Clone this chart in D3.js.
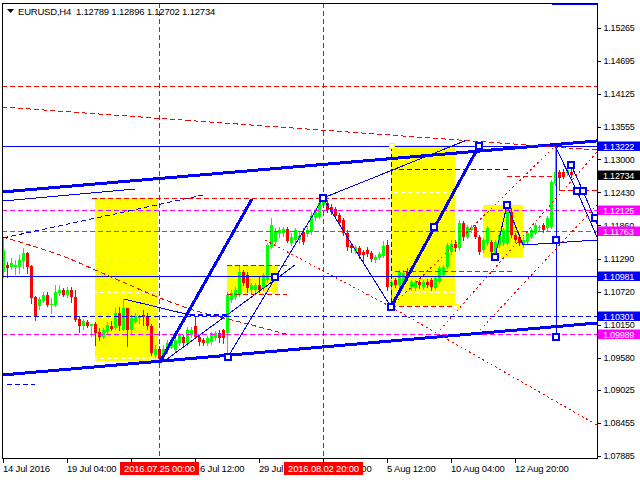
<!DOCTYPE html>
<html><head><meta charset="utf-8">
<script src="https://cdn.jsdelivr.net/npm/d3@7/dist/d3.min.js"></script>
<style>
body{margin:0;background:#fff}
svg{display:block}
text{font-family:"Liberation Sans",Arial,sans-serif;font-size:9.5px;letter-spacing:-0.2px;white-space:pre}
</style>
</head><body>
<svg id="c" width="640" height="480"></svg>
<script>
// ---------- DATA ----------
const symbolTitle = "EURUSD,H4  1.12789 1.12896 1.12702 1.12734";
const firstBar = -39; // bar index 0 = 2016.07.25 00:00 (H4)
const opens = [
1.11057,1.11178,1.11143,1.11143,1.11143,1.11247,1.11385,1.11161,1.10626,1.10471,
1.10557,1.10660,1.10488,1.10488,1.10696,1.10746,1.10660,1.10746,1.10626,1.10247,
1.10126,1.10195,1.10126,1.10161,1.10023,1.09937,1.10023,1.10126,1.10092,1.10350,
1.10056,1.10437,1.10056,1.10195,1.10264,1.10315,1.10281,1.10126,1.09625,
1.09729,1.09592,1.09711,1.09764,1.09711,1.09834,1.09937,1.09834,1.09970,1.10126,
1.09937,1.09884,1.09834,1.09851,1.09920,1.10006,1.10056,1.10006,1.10574,1.10626,
1.10660,1.11057,1.11005,1.10746,1.10746,1.10833,1.10782,1.10919,1.11488,1.11575,
1.11730,1.11730,1.11799,1.11558,1.11609,1.11609,1.11747,1.11713,1.11747,1.11989,
1.12006,1.12213,1.12248,1.12179,1.12144,1.12041,1.11954,1.11730,1.11523,1.11419,
1.11471,1.11402,1.11437,1.11385,1.11264,1.11299,1.11333,1.11523,1.10816,1.10919,
1.10833,1.10833,1.11057,1.10799,1.10782,1.10885,1.10799,1.10885,1.10919,1.10782,
1.10885,1.11005,1.11143,1.11402,1.11540,1.11471,1.11903,1.11661,1.11782,1.11834,
1.11661,1.11437,1.11558,1.11575,1.11385,1.11523,1.11558,1.11558,1.12092,1.11695,
1.11661,1.11523,1.11575,1.11661,1.11730,1.11816,1.11868,1.11816,1.11834,1.12592,
1.12782,1.12782,1.12765,1.12789];
const highs = [
1.11643,1.11229,1.11299,1.11264,1.11350,1.11471,1.11402,1.11178,1.10643,1.10626,
1.10713,1.10713,1.10609,1.10833,1.10833,1.10782,1.10799,1.10799,1.10746,1.10298,
1.10247,1.10229,1.10161,1.10195,1.10092,1.10092,1.10195,1.10212,1.10437,1.10454,
1.10592,1.10437,1.10315,1.10350,1.10315,1.10401,1.10350,1.10161,1.09797,
1.09781,1.09797,1.09884,1.09937,1.09937,1.10006,1.09970,1.10109,1.10109,1.10281,
1.09970,1.09920,1.09954,1.10023,1.10040,1.10056,1.10075,1.10713,1.10746,1.10799,
1.11178,1.11091,1.11057,1.10868,1.10868,1.10971,1.11040,1.11558,1.11989,1.11816,
1.11834,1.11834,1.11834,1.11730,1.11816,1.11747,1.11816,1.11851,1.12092,1.12144,
1.12299,1.12368,1.12299,1.12230,1.12179,1.12075,1.11989,1.11782,1.11558,1.11523,
1.11506,1.11437,1.11488,1.11419,1.11350,1.11402,1.11592,1.11609,1.10919,1.10954,
1.11091,1.11091,1.11126,1.10919,1.10919,1.10919,1.10919,1.10937,1.10954,1.10988,
1.11161,1.11178,1.11558,1.11609,1.11609,1.11954,1.11937,1.11868,1.11868,1.11868,
1.11695,1.11643,1.11851,1.11609,1.11609,1.11730,1.11816,1.12213,1.12161,1.11730,
1.11713,1.11661,1.11765,1.11816,1.11903,1.11868,1.11903,1.12023,1.12644,1.13222,
1.12817,1.12834,1.12851,1.12896];
const lows = [
1.10971,1.10971,1.11109,1.11023,1.11040,1.11126,1.11040,1.10523,1.10229,1.10420,
1.10540,1.10471,1.10350,1.10471,1.10660,1.10643,1.10626,1.10540,1.10212,1.10023,
1.10075,1.10109,1.09954,1.09797,1.09884,1.09920,1.10006,1.10056,1.10075,1.10056,
1.10056,1.09781,1.10006,1.10178,1.10178,1.10142,1.10075,1.09625,1.09592,
1.09505,1.09540,1.09661,1.09747,1.09678,1.09797,1.09797,1.09797,1.09937,1.09920,
1.09797,1.09797,1.09797,1.09816,1.09884,1.09851,1.09834,1.09592,1.10540,1.10592,
1.10643,1.10833,1.10713,1.10696,1.10713,1.10713,1.10746,1.10885,1.11471,1.11558,
1.11661,1.11678,1.11575,1.11523,1.11558,1.11558,1.11540,1.11678,1.11713,1.11954,
1.11989,1.12179,1.12092,1.12058,1.11989,1.11868,1.11695,1.11437,1.11402,1.11385,
1.11299,1.11212,1.11333,1.11247,1.11229,1.11281,1.11316,1.10746,1.10454,1.10799,
1.10799,1.10799,1.10919,1.10746,1.10746,1.10782,1.10765,1.10799,1.10746,1.10765,
1.10868,1.10988,1.11126,1.11368,1.11419,1.11437,1.11609,1.11643,1.11747,1.11643,
1.11368,1.11402,1.11523,1.11316,1.11333,1.11488,1.11523,1.11540,1.11661,1.11575,
1.11523,1.11488,1.11558,1.11643,1.11713,1.11782,1.11747,1.11782,1.11816,1.12558,
1.12472,1.12679,1.12730,1.12702];
const closes = [
1.11437,1.11126,1.11212,1.11178,1.11264,1.11385,1.11143,1.10609,1.10298,1.10592,
1.10660,1.10488,1.10506,1.10713,1.10746,1.10660,1.10746,1.10626,1.10229,1.10126,
1.10212,1.10126,1.10161,1.10006,1.09937,1.10056,1.10142,1.10075,1.10350,1.10126,
1.10437,1.10056,1.10264,1.10298,1.10298,1.10281,1.10126,1.09661,1.09729,
1.09557,1.09729,1.09834,1.09851,1.09884,1.09970,1.09834,1.10056,1.10056,1.09937,
1.09851,1.09834,1.09920,1.10006,1.10006,1.09920,1.09920,1.10660,1.10696,1.10746,
1.11057,1.10868,1.10782,1.10833,1.10833,1.10746,1.11005,1.11523,1.11868,1.11747,
1.11782,1.11799,1.11592,1.11661,1.11782,1.11678,1.11575,1.11782,1.12023,1.12092,
1.12248,1.12299,1.12127,1.12092,1.12023,1.11903,1.11730,1.11488,1.11471,1.11488,
1.11350,1.11350,1.11368,1.11281,1.11316,1.11368,1.11506,1.10799,1.10885,1.10833,
1.11057,1.11040,1.10971,1.10885,1.10885,1.10833,1.10885,1.10833,1.10799,1.10954,
1.11126,1.11143,1.11523,1.11540,1.11471,1.11903,1.11661,1.11834,1.11834,1.11661,
1.11402,1.11609,1.11816,1.11402,1.11575,1.11695,1.11782,1.12161,1.11695,1.11609,
1.11558,1.11609,1.11730,1.11782,1.11868,1.11834,1.11782,1.11989,1.12610,1.12782,
1.12679,1.12696,1.12817,1.12734];

const priceTicks = [1.15265,1.14695,1.14125,1.13555,1.13000,1.12430,1.11860,1.11290,1.10720,1.10150,1.09580,1.09025,1.08455,1.07885];
const timeTickBars = [-39,-23,-7,9,25,41,57,73,89];
const timeTickLabels = ["14 Jul 2016","19 Jul 04:00","21 Jul 20:00","26 Jul 12:00","29 Jul 04:00","2 Aug 20:00","5 Aug 12:00","10 Aug 04:00","12 Aug 20:00"];
const markedBars = [0,41];
const markedLabels = ["2016.07.25 00:00","2016.08.02 20:00"];

const levelPrices = [1.14265,1.13222,1.12125,1.11763,1.10981,1.10301,1.09989];
const levelKinds  = ["redDash","blue","magentaDash","magentaDash","blue","blueDash","magentaDash"];
const levelTagged = [false,true,true,true,true,true,true];
const lastPrice = 1.12734;

// yellow zones: [fromBar, toBar, topPrice, bottomPrice]
const zones = [[-16,-0.25,1.12333,1.09523],[17,29.75,1.11178,1.10678],[58,74,1.13247,1.10471],[81,91,1.12213,1.11299]];
const zoneAnchorBars   = [58,74];
const zoneAnchorPrices = [1.13247,1.10471];

// drawn trend objects: [bar1, price1, bar2, price2, kind]
const trendLines = [
[-39.25,1.12437,109.5,1.13317,"thickBlue"],
[-39.25,1.09281,109.5,1.10178,"thickBlue"],
[0.25,1.09505,23.25,1.12316,"thickBlue"],
[58,1.10454,80,1.13230,"thickBlue"],
[98.25,1.15679,109.5,1.15679,"thickBlue"],
[-39,1.12282,-6,1.12489,"blue"],
[-8.75,1.10592,7.75,1.10315,"blue"],
[7.75,1.10315,17,1.10315,"blueDashThick"],
[17.25,1.09592,41,1.12333,"blue"],
[1,1.09505,34,1.11178,"blue"],
[41,1.12333,77,1.13334,"blue"],
[41,1.12333,58,1.10454,"blue"],
[99,1.13230,104.5,1.12455,"blue"],
[104.5,1.12455,109.5,1.11661,"blue"],
[103,1.12903,106,1.12455,"blue"],
[106,1.12455,109.5,1.11880,"blue"],
[99.25,1.13230,99.25,1.09937,"blue"],
[91,1.11523,109.5,1.11609,"blue"],
[84,1.11316,87,1.12213,"blue"],
[87,1.12213,91,1.11523,"blue"],
[-39,1.11644,11,1.12385,"blueDash"],
[-38,1.09109,-31,1.09109,"blueDash"],
[58,1.13230,58,1.10454,"blueDash"],
[58,1.12817,87.25,1.12817,"blueDash"],
[-39.25,1.13903,109.5,1.13161,"redDash"],
[-16.75,1.12333,57.75,1.12333,"redDash"],
[17,1.11178,32,1.11178,"redDash"],
[17,1.10678,32,1.10678,"redDash"],
[26.5,1.11609,58,1.10454,"redDot"],
[58,1.10454,109.5,1.08419,"redDot"],
[59,1.11074,88.5,1.11074,"redDash"],
[58,1.10471,74,1.10471,"redDash"],
[58,1.10454,99,1.13230,"redDot"],
[70.25,1.10056,109.5,1.13127,"redDot"],
[80.25,1.10056,109.5,1.12213,"redDot"],
[87,1.12696,98.5,1.12696,"redDash"],
[100.25,1.12455,109.5,1.12455,"redDash"]
];
const arcBars   = [-39,-24.75,-14.75,0.25,10.25,20.25,32.75];
const arcPrices = [1.11661,1.11350,1.11057,1.10609,1.10367,1.10195,1.09970];

const markerBars   = [17.25,29,41,58,68.75,80,84,87,99.25,99.25,103,104.5,106,109];
const markerPrices = [1.09592,1.10971,1.12333,1.10454,1.11834,1.13230,1.11316,1.12213,1.11609,1.09937,1.12903,1.12455,1.12455,1.11989];

// ---------- DRAW ----------
const W=640,H=480, L=2, R=597, T=3, B=458;
const svg = d3.select("#c");
const x = d3.scaleLinear().domain([-39,103]).range([3,571]);
const y = d3.scaleLinear().domain([1.07850,1.15696]).range([B,T]);
const px = v => Math.round(x(v));
const py = v => Math.round(y(v));

svg.append("rect").attr("width",W).attr("height",H).attr("fill","#fff");
svg.append("defs").append("clipPath").attr("id","plot")
  .append("rect").attr("x",L).attr("y",T).attr("width",R-L).attr("height",B-T);
const plot = svg.append("g").attr("clip-path","url(#plot)").attr("shape-rendering","crispEdges");

// zones
plot.selectAll("rect.zone").data(zones).join("rect").attr("class","zone")
  .attr("x",d=>px(d[0])).attr("width",d=>px(d[1])-px(d[0]))
  .attr("y",d=>py(d[2])).attr("height",d=>py(d[3])-py(d[2]))
  .attr("fill","#ffff00");

// grid (white, visible only over zones)
plot.selectAll("line.grid").data(priceTicks).join("line").attr("class","grid")
  .attr("x1",L).attr("x2",R).attr("y1",d=>py(d)+0.5).attr("y2",d=>py(d)+0.5)
  .attr("stroke","#fff").attr("stroke-dasharray","4,3");

// candles
const bars = d3.range(opens.length).map(k=>({i:firstBar+k,o:opens[k],h:highs[k],l:lows[k],c:closes[k]}));
const cg = plot.append("g");
cg.selectAll("line.wick").data(bars).join("line").attr("class","wick")
  .attr("x1",d=>px(d.i)+0.5).attr("x2",d=>px(d.i)+0.5)
  .attr("y1",d=>py(d.h)).attr("y2",d=>py(d.l)+1)
  .attr("stroke",d=>d.c>=d.o?"#00ff00":"#ff0000");
cg.selectAll("rect.body").data(bars).join("rect").attr("class","body")
  .attr("x",d=>px(d.i)-1).attr("width",3)
  .attr("y",d=>Math.min(py(d.o),py(d.c)))
  .attr("height",d=>Math.max(1,Math.abs(py(d.o)-py(d.c))))
  .attr("fill",d=>d.c>=d.o?"#00ff00":"#ff0000");

// styles
const styles = {
  thickBlue:{c:"#0000ff",w:3,d:null},
  blue:{c:"#0000ff",w:1,d:null},
  blueDash:{c:"#0000ff",w:1,d:"5,3"},
  blueDashThick:{c:"#0000ff",w:2,d:"5,3"},
  redDash:{c:"#ff0000",w:1,d:"5,3"},
  redDot:{c:"#ff0000",w:1,d:"2,3"},
  magentaDash:{c:"#ff00ff",w:1,d:"5,3"}
};
function styled(sel,k){const s=styles[k];sel.attr("stroke",s.c).attr("stroke-width",s.w).attr("fill","none");if(s.d)sel.attr("stroke-dasharray",s.d);return sel;}

// horizontal levels
levelPrices.forEach((p,k)=>{
  styled(plot.append("line").attr("x1",L).attr("x2",R).attr("y1",py(p)+0.5).attr("y2",py(p)+0.5),levelKinds[k]);
});
// vertical markers
markedBars.forEach(b=>{
  styled(plot.append("line").attr("x1",px(b)+0.5).attr("x2",px(b)+0.5).attr("y1",T).attr("y2",B),"redDash");
});
// arc
styled(plot.append("path").datum(arcBars.map((b,k)=>[b,arcPrices[k]]))
  .attr("d",d3.line().x(d=>x(d[0])).y(d=>y(d[1])).curve(d3.curveCatmullRom)),"redDash");
// trend lines
trendLines.forEach(t=>{
  styled(plot.append("line").attr("x1",x(t[0])).attr("y1",y(t[1])).attr("x2",x(t[2])).attr("y2",y(t[3])),t[4]);
});
// markers
plot.selectAll("rect.mk").data(markerBars.map((b,k)=>[b,markerPrices[k]])).join("rect").attr("class","mk")
  .attr("x",d=>Math.round(x(d[0]))-3).attr("y",d=>Math.round(y(d[1]))-3)
  .attr("width",6).attr("height",6).attr("fill","#fff").attr("stroke","#0000ff").attr("stroke-width",1.5);
plot.selectAll("rect.za").data(zoneAnchorBars.map((b,k)=>[b,zoneAnchorPrices[k]])).join("rect").attr("class","za")
  .attr("x",d=>px(d[0])-2).attr("y",d=>py(d[1])-2)
  .attr("width",5).attr("height",5).attr("fill","#fff").attr("stroke","#ffff00").attr("stroke-width",1);

// frame
svg.append("rect").attr("x",L+0.5).attr("y",T+0.5).attr("width",R-L).attr("height",B-T)
  .attr("fill","none").attr("stroke","#000").attr("shape-rendering","crispEdges");

// right price axis
const ya = svg.append("g").attr("transform",`translate(${R+0.5},0)`)
  .call(d3.axisRight(y).tickValues(priceTicks).tickFormat(d3.format(".5f")).tickSize(3).tickPadding(3));
ya.select(".domain").remove();
ya.selectAll("line").attr("stroke","#000").attr("shape-rendering","crispEdges");
ya.selectAll("text").attr("fill","#000").attr("dy","0.3em").style("font-size","9px").style("font-family","Liberation Sans, Arial, sans-serif");

// bottom time axis: tick marks via d3 axis, labels split around the highlighted date boxes
const xa = svg.append("g").attr("transform",`translate(0,${B+0.5})`)
  .call(d3.axisBottom(x).tickValues(timeTickBars).tickFormat("").tickSize(4));
xa.select(".domain").remove();
xa.selectAll("line").attr("stroke","#000").attr("shape-rendering","crispEdges");

const boxSpans = markedBars.map(b=>[px(b)-39, px(b)+40]);
const labelY = 472;
timeTickBars.forEach((b,k)=>{
  const s = timeTickLabels[k];
  const t = svg.append("text").attr("x",px(b)).attr("y",labelY).attr("fill","#000").text(s);
  const n = t.node();
  const starts=[], vis=[];
  for(let j=0;j<s.length;j++){
    const a=n.getStartPositionOfChar(j).x, e=n.getEndPositionOfChar(j).x, m=(a+e)/2;
    starts.push(a);
    vis.push(!boxSpans.some(bx=>m>bx[0]-0.5 && m<bx[1]+0.5));
  }
  if(vis.every(v=>v)) return;
  t.remove();
  let j=0;
  while(j<s.length){
    if(!vis[j]||s[j]===" "){j++;continue;}
    const st=j; while(j<s.length&&vis[j]) j++;
    const sub=s.slice(st,j).trim();
    if(sub) svg.append("text").attr("x",starts[st]).attr("y",labelY).attr("fill","#000").text(sub);
  }
});

// highlighted time boxes
markedBars.forEach((b,k)=>{
  const cx = px(b);
  svg.append("rect").attr("x",cx-39).attr("y",462).attr("width",79).attr("height",13).attr("fill","#ff0000");
  svg.append("text").attr("x",cx+0.5).attr("y",labelY).attr("text-anchor","middle").attr("fill","#fff").text(markedLabels[k]);
});

// price tags
const tagColor = {blue:"#0000ff",blueDash:"#0000ff",magentaDash:"#ff00ff"};
function tag(p,col){
  const cy = py(p);
  svg.append("rect").attr("x",R+1).attr("y",cy-4.5).attr("width",43).attr("height",9.5).attr("fill",col);
  svg.append("text").attr("x",R+6).attr("y",cy+3.5).attr("fill","#fff").style("font-size","9px").text(d3.format(".5f")(p));
}
levelPrices.forEach((p,k)=>{ if(levelTagged[k]) tag(p,tagColor[levelKinds[k]]); });
tag(lastPrice,"#000");

// title
svg.append("path").attr("d","M7,9 L14,9 L10.5,13 Z").attr("fill","#000");
svg.append("text").attr("x",18).attr("y",15).attr("fill","#000").text(symbolTitle);
</script>
</body></html>
